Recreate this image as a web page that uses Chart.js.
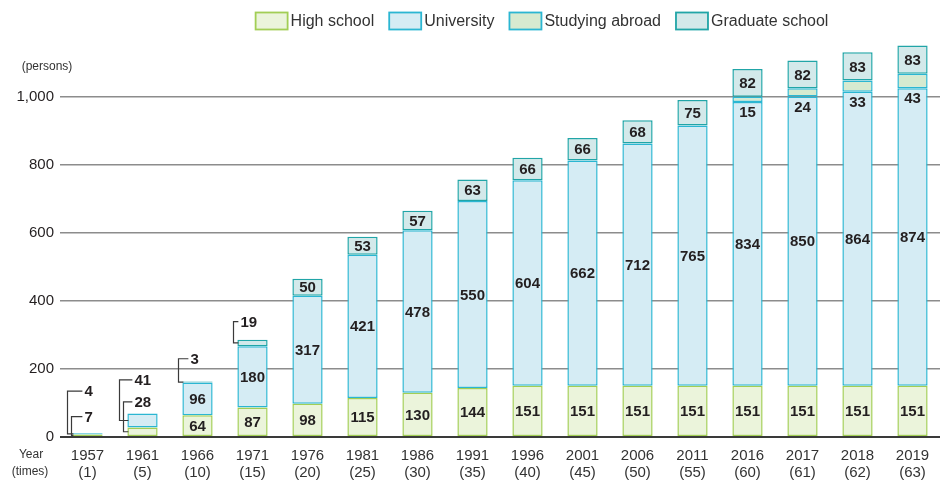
<!DOCTYPE html>
<html>
<head>
<meta charset="utf-8">
<script src="https://cdn.jsdelivr.net/npm/chart.js@4"></script>
<style>
  body { margin: 0; background: #fff; }
</style>
</head>
<body>
<canvas id="chartStudents" width="940" height="481"></canvas>
<script>
const chartStudents = document.getElementById('chartStudents');

const years = ['1957', '1961', '1966', '1971', '1976', '1981', '1986', '1991',
  '1996', '2001', '2006', '2011', '2016', '2017', '2018', '2019'];
const times = ['(1)', '(5)', '(10)', '(15)', '(20)', '(25)', '(30)', '(35)',
  '(40)', '(45)', '(50)', '(55)', '(60)', '(61)', '(62)', '(63)'];
const highSchool = [7, 28, 64, 87, 98, 115, 130, 144, 151, 151, 151, 151, 151, 151, 151, 151];
const university = [4, 41, 96, 180, 317, 421, 478, 550, 604, 662, 712, 765, 834, 850, 864, 874];
const studyingAbroad = [null, null, null, null, null, null, null, null, null, null, null, null, 15, 24, 33, 43];
const graduateSchool = [null, null, 3, 19, 50, 53, 57, 63, 66, 66, 68, 75, 82, 82, 83, 83];
const yTicks = [0, 200, 400, 600, 800, 1000];

const textColor = '#231f20';
const fontFamily = '"Liberation Sans", Arial, Helvetica, sans-serif';
Chart.defaults.font.family = fontFamily;
Chart.defaults.color = textColor;

// small segments get a bracket line and the number outside the bar
// key = dataset-bar, at = label height in axis units, dx = line offset, tx = text offset (from bar left)
const callouts = {
  '0-0': { at: 60, dx: -1, tx: 12 },
  '1-0': { at: 135, dx: -5, tx: 12 },
  '0-1': { at: 103, dx: -4, tx: 7 },
  '1-1': { at: 168, dx: -8, tx: 7 },
  '3-2': { at: 230, dx: -4, tx: 8 },
  '3-3': { at: 339, dx: -4, tx: 3 },
};

const barLabels = {
  id: 'barLabels',
  afterDatasetsDraw(chart) {
    const ctx = chart.ctx;
    const yScale = chart.scales.y;
    ctx.save();
    ctx.font = 'bold 15px ' + fontFamily;
    ctx.fillStyle = textColor;
    ctx.strokeStyle = '#3a3a3a';
    ctx.lineWidth = 1.2;
    chart.data.datasets.forEach((ds, di) => {
      const meta = chart.getDatasetMeta(di);
      meta.data.forEach((bar, i) => {
        const v = ds.data[i];
        if (v === null || v === undefined) return;
        const left = bar.x - bar.width / 2;
        const mid = (bar.y + bar.base) / 2;
        const c = callouts[di + '-' + i];
        if (c) {
          const lx = Math.round(left + c.dx) + 0.5;
          const ly = yScale.getPixelForValue(c.at);
          ctx.beginPath();
          ctx.moveTo(left + 1, mid);
          ctx.lineTo(lx, mid);
          ctx.lineTo(lx, ly);
          ctx.lineTo(left + c.tx - 2, ly);
          ctx.stroke();
          ctx.textAlign = 'left';
          ctx.textBaseline = 'middle';
          ctx.fillText(String(v), left + c.tx, ly + 1);
        } else if (di === 2) {
          ctx.textAlign = 'center';
          ctx.textBaseline = 'middle';
          ctx.fillText(String(v), bar.x, bar.base + 11);
        } else {
          ctx.textAlign = 'center';
          ctx.textBaseline = 'middle';
          ctx.fillText(String(v), bar.x, mid + 1);
        }
      });
    });
    ctx.restore();
  }
};

// legend drawn by hand so it can sit right of centre like the original
const topLegend = {
  id: 'topLegend',
  afterDraw(chart) {
    const ctx = chart.ctx;
    const boxW = 32, boxH = 17, gap = 3, itemGap = 15, centerX = 542, y = 21;
    ctx.save();
    ctx.font = '16px ' + fontFamily;
    const items = chart.data.datasets.map(ds => ({ ds, w: ctx.measureText(ds.label).width }));
    const total = items.reduce((s, it) => s + boxW + gap + it.w, 0) + itemGap * (items.length - 1);
    let x = centerX - total / 2;
    items.forEach(it => {
      ctx.fillStyle = it.ds.backgroundColor;
      ctx.strokeStyle = it.ds.borderColor;
      ctx.lineWidth = 1.8;
      ctx.fillRect(x, y - boxH / 2, boxW, boxH);
      ctx.strokeRect(x, y - boxH / 2, boxW, boxH);
      ctx.fillStyle = '#333';
      ctx.textAlign = 'left';
      ctx.textBaseline = 'middle';
      ctx.fillText(it.ds.label, x + boxW + gap, y + 1);
      x += boxW + gap + it.w + itemGap;
    });
    ctx.restore();
  }
};

const axisNotes = {
  id: 'axisNotes',
  afterDraw(chart) {
    const ctx = chart.ctx;
    ctx.save();
    ctx.font = '12px ' + fontFamily;
    ctx.fillStyle = '#333';
    ctx.textAlign = 'center';
    ctx.textBaseline = 'middle';
    ctx.fillText('(persons)', 47, 67);
    ctx.fillText('Year', 31, 455);
    ctx.fillText('(times)', 30, 472);
    ctx.restore();
  }
};

function makeSet(label, data, fill, border) {
  return {
    label: label,
    data: data,
    backgroundColor: fill,
    borderColor: border,
    borderWidth: 1.5,
    borderSkipped: false,
    barPercentage: 0.55,
    categoryPercentage: 1,
  };
}

new Chart(chartStudents, {
  type: 'bar',
  data: {
    labels: years.map((y, i) => [y, times[i]]),
    datasets: [
      makeSet('High school', highSchool, '#ebf4db', '#a2ce55'),
      makeSet('University', university, '#d5ecf4', '#2bb6d2'),
      makeSet('Studying abroad', studyingAbroad, '#d6ead0', '#2bb6d2'),
      makeSet('Graduate school', graduateSchool, '#d3e9ea', '#21a5a7'),
    ],
  },
  options: {
    responsive: false,
    animation: false,
    layout: { padding: { top: 39, bottom: 0, right: 0, left: 0 } },
    plugins: {
      legend: { display: false },
      tooltip: { enabled: false },
    },
    scales: {
      x: {
        stacked: true,
        grid: { display: false, drawTicks: false },
        border: { display: false },
        afterFit: axis => {
          axis.height = 44;
        },
        ticks: {
          color: '#333',
          font: { size: 15, lineHeight: 1.15 },
          padding: 10,
          maxRotation: 0,
          autoSkip: false,
        },
      },
      y: {
        stacked: true,
        min: 0,
        max: 1170,
        afterBuildTicks: axis => {
          axis.ticks = yTicks.map(v => ({ value: v }));
        },
        afterFit: axis => {
          axis.width = 60;
        },
        border: { display: false },
        grid: {
          drawTicks: false,
          color: c => (c.tick && c.tick.value === 0 ? '#3a3a3a' : '#8c8c8c'),
          lineWidth: c => (c.tick && c.tick.value === 0 ? 2 : 1.5),
        },
        ticks: {
          color: textColor,
          font: { size: 15 },
          padding: 6,
          callback: v => v.toLocaleString('en-US'),
        },
      },
    },
  },
  plugins: [barLabels, topLegend, axisNotes],
});
</script>
</body>
</html>
